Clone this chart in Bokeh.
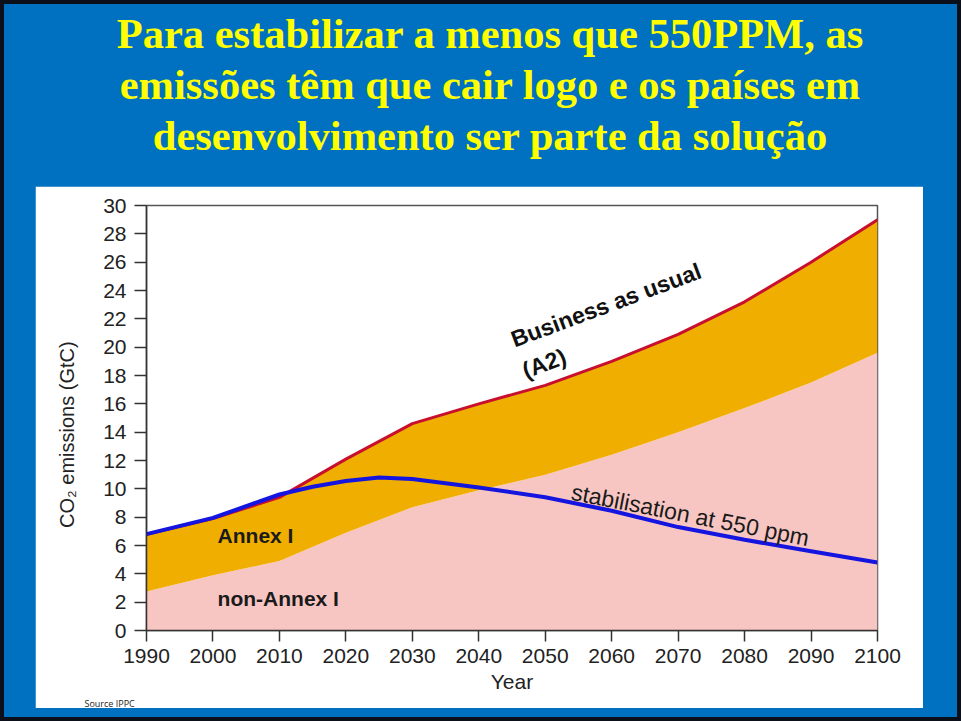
from bokeh.plotting import figure
from bokeh.models import Range1d, FixedTicker, Div, Title
from bokeh.layouts import column
from bokeh.core.properties import value
from bokeh.embed import file_html
from bokeh.resources import INLINE

# ---- data ----
years = [1990, 2000, 2010, 2020, 2030, 2040, 2050, 2060, 2070, 2080, 2090, 2100]
business_as_usual = [6.8, 7.9, 9.4, 12.1, 14.6, 16.0, 17.3, 19.0, 20.9, 23.2, 26.0, 29.0]
non_annex_i = [2.75, 3.9, 4.9, 6.9, 8.7, 9.9, 11.0, 12.4, 14.0, 15.7, 17.5, 19.6]
stab_years = [1990, 2000, 2010, 2015, 2020, 2025, 2030, 2040, 2050, 2060, 2070, 2080, 2090, 2100]
stabilisation_550 = [6.8, 7.95, 9.6, 10.15, 10.55, 10.8, 10.7, 10.1, 9.4, 8.45, 7.3, 6.4, 5.6, 4.8]
y_ticks = list(range(0, 31, 2))
x_ticks = list(range(1990, 2101, 10))
title_lines = [
    "Para estabilizar a menos que 550PPM, as",
    "emissões têm que cair logo e os países em",
    "desenvolvimento ser parte da solução",
]
source_note = "Source IPPC"

SLIDE_BLUE = "#0070C0"
ORANGE = "#F0AE00"
PINK = "#F8C6C2"
RED = "#C8102E"
BLUE = "#1515E0"
FONT = "Liberation Sans"

p = figure(width=888, height=522, x_range=Range1d(1990, 2100), y_range=Range1d(0, 30),
           output_backend="svg", toolbar_location=None,
           min_border_left=111, min_border_right=46, min_border_top=19, min_border_bottom=77,
           background_fill_color="white", border_fill_color="white",
           margin=(0, 38, 13, 35))

p.varea(x=years, y1=0, y2=non_annex_i, fill_color=PINK)
p.varea(x=years, y1=non_annex_i, y2=business_as_usual, fill_color=ORANGE)
p.line(years, business_as_usual, line_color=RED, line_width=3)
p.line(stab_years, stabilisation_550, line_color=BLUE, line_width=4)

p.xgrid.visible = False
p.ygrid.visible = False
p.outline_line_color = "#555555"
p.outline_line_width = 1.5

p.xaxis.ticker = FixedTicker(ticks=x_ticks)
p.yaxis.ticker = FixedTicker(ticks=y_ticks)
for ax in (p.xaxis, p.yaxis):
    ax.axis_line_color = "#333333"
    ax.axis_line_width = 1.5
    ax.major_tick_line_color = "#333333"
    ax.major_tick_line_width = 1.5
    ax.major_tick_in = 0
    ax.minor_tick_line_color = None
    ax.major_label_text_font = FONT
    ax.major_label_text_font_size = "21px"
    ax.major_label_text_color = "#222222"
    ax.axis_label_text_font = FONT
    ax.axis_label_text_font_style = "normal"
    ax.axis_label_text_color = "#222222"

p.yaxis.major_tick_out = 12
p.yaxis.major_label_standoff = 8
# trailing no-break spaces shift the visible title slightly below the frame centre, as in the reference
p.yaxis.axis_label = "CO₂ emissions (GtC)" + "\u00a0" * 6
p.yaxis.axis_label_text_font_size = "20px"
p.yaxis.axis_label_standoff = 22

p.xaxis.major_tick_out = 11
p.xaxis.major_label_standoff = 7
p.xaxis.axis_label = "Year"
p.xaxis.axis_label_text_font_size = "21px"
p.xaxis.axis_label_standoff = 4

# source note under the x-axis title, at the left of the white panel
p.add_layout(Title(text=source_note, align="left", offset=-62, text_font_size="9px",
                   text_font="Open Sans", text_font_style="normal", text_color="#222222",
                   standoff=-2), "below")

# inline labels
p.text(x=[2000.7], y=[6.7], text=["Annex I"], text_font=value(FONT), text_font_style="bold",
       text_font_size="21px", text_baseline="middle", text_align="left", text_color="#1a1a1a")
p.text(x=[2000.7], y=[2.25], text=["non-Annex I"], text_font=value(FONT), text_font_style="bold",
       text_font_size="21px", text_baseline="middle", text_align="left", text_color="#1a1a1a")
p.text(x=[2045.0], y=[20.5], text=["Business as usual"], angle=0.356, text_font=value(FONT),
       text_font_style="bold", text_font_size="23px", text_baseline="alphabetic",
       text_align="left", text_color="#111111")
p.text(x=[2046.7], y=[18.3], text=["(A2)"], angle=0.356, text_font=value(FONT),
       text_font_style="bold", text_font_size="23px", text_baseline="alphabetic",
       text_align="left", text_color="#111111")
p.text(x=[2054.0], y=[9.8], text=["stabilisation at 550 ppm"], angle=-0.194, text_font=value(FONT),
       text_font_style="normal", text_font_size="23px", text_baseline="alphabetic",
       text_align="left", text_color="#1a1a1a")

title_html = (
    '<div style="font-family:\'Liberation Serif\',\'Times New Roman\',serif;font-weight:bold;'
    'font-size:42.5px;line-height:51px;color:#FFFF00;text-align:center;width:961px;'
    'padding-left:19px;padding-top:8px;box-sizing:border-box;white-space:nowrap;">'
    + "<br>".join(title_lines) + "</div>"
)
title_div = Div(text=title_html, width=961, height=186, margin=0,
                styles={"overflow": "hidden"})

layout = column(
    title_div,
    p,
    width=961, height=721,
    styles={"background-color": SLIDE_BLUE, "box-shadow": "inset 0 0 0 4px #0a0f1a"},
)

open("out.html", "w").write(file_html(layout, INLINE))
